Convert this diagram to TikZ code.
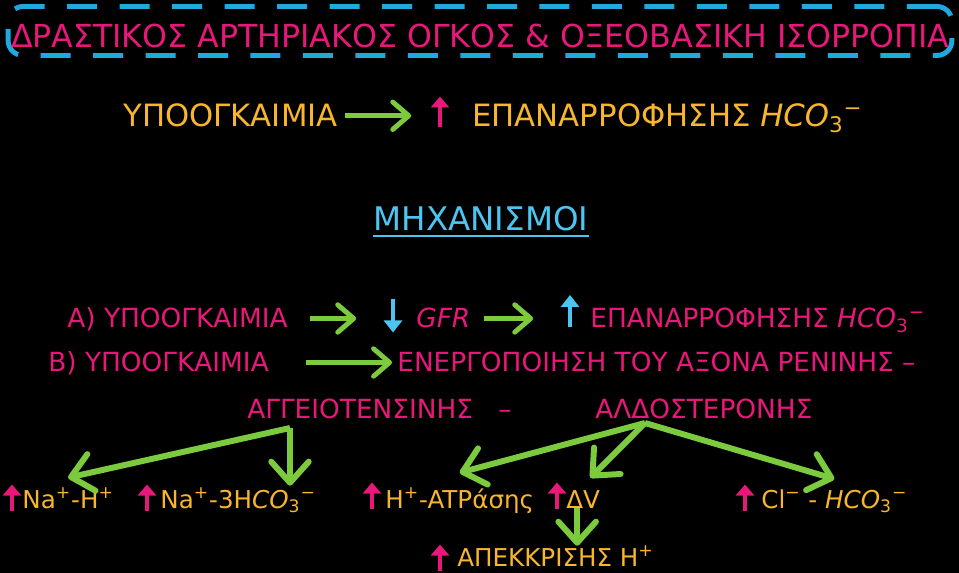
\documentclass[tikz,border=0pt]{standalone}
\usepackage{fontspec}
\setmainfont{DejaVu Sans}
\usetikzlibrary{arrows.meta, positioning}

\definecolor{textpink}{HTML}{E8177A}
\definecolor{textorange}{HTML}{F8B52E}
\definecolor{arrowgreen}{HTML}{7CCB3E}
\definecolor{framecyan}{HTML}{1FA9DC}
\definecolor{textcyan}{HTML}{4CC6F0}

\begin{document}
\begin{tikzpicture}[
	  x=0.02cm, y=-0.02cm,
	  titlebox/.style={rectangle, rounded corners=0.3cm, draw=framecyan, line width=2.8pt, dash pattern=on 0.6cm off 0.45cm, minimum width=18.88cm, minimum height=0.98cm, inner sep=0pt, text height=0.66cm, text depth=0pt, text=textpink, font=\fontsize{18}{20}\selectfont},
	  bigline/.style={inner sep=0pt, anchor=base west, text=textorange, font=\fontsize{17.5}{20}\selectfont},
	  heading/.style={inner sep=0pt, anchor=base, text=textcyan, font=\fontsize{18.5}{20}\selectfont},
	  mechline/.style={inner sep=0pt, anchor=base west, text=textpink, font=\fontsize{15}{18}\selectfont},
	  ion/.style={inner sep=0pt, anchor=base west, text=textorange, font=\fontsize{14}{16}\selectfont},
	  pinkup/.style={minimum width=0.4cm, minimum height=0.54cm, inner sep=0pt, path picture={\draw[textpink, line width=2.1pt, -{Triangle[length=0.22cm, width=0.36cm]}] (path picture bounding box.south) -- (path picture bounding box.north);}},
	  cyanup/.style={minimum width=0.4cm, minimum height=0.64cm, inner sep=0pt, path picture={\draw[textcyan, line width=2.3pt, -{Triangle[length=0.24cm, width=0.36cm]}] (path picture bounding box.south) -- (path picture bounding box.north);}},
	  cyandown/.style={minimum width=0.4cm, minimum height=0.66cm, inner sep=0pt, path picture={\draw[textcyan, line width=2.3pt, -{Triangle[length=0.24cm, width=0.36cm]}] (path picture bounding box.north) -- (path picture bounding box.south);}},
	  garrow/.style={draw=arrowgreen, line width=2.8pt, -{Straight Barb[length=0.32cm, width=0.55cm, round]}},
	  forkarrow/.style={garrow, line width=3.4pt, -{Straight Barb[length=0.42cm, width=0.75cm, round]}}
	]

	\useasboundingbox (0,0) rectangle (959,573);
	\fill[black] (0,0) rectangle (959,573);

	\node[titlebox] (title) at (480,31) {ΔΡΑΣΤΙΚΟΣ ΑΡΤΗΡΙΑΚΟΣ ΟΓΚΟΣ \& ΟΞΕΟΒΑΣΙΚΗ ΙΣΟΡΡΟΠΙΑ};

	% first line
	\node[bigline] (hypo) at (123,127) {ΥΠΟΟΓΚΑΙΜΙΑ};
	\node[pinkup, minimum height=0.62cm] (upreab) at (440,112) {};
	\node[bigline] (reab) at (472,127) {ΕΠΑΝΑΡΡΟΦΗΣΗΣ \textit{HCO}\textsubscript{3}\textsuperscript{−}};

	\node[heading] (mech) at (481,231) {ΜΗΧΑΝΙΣΜΟΙ};

	% mechanism A
	\node[mechline] (hypoA) at (67,328) {Α) ΥΠΟΟΓΚΑΙΜΙΑ};
	\node[cyandown] (gfrdown) at (393,316) {};
	\node[mechline] (gfr) at (416,328) {\textit{GFR}};
	\node[cyanup] (gfrup) at (570,311) {};
	\node[mechline] (reabA) at (590,328) {ΕΠΑΝΑΡΡΟΦΗΣΗΣ \textit{HCO}\textsubscript{3}\textsuperscript{−}};

	% mechanism B
	\node[mechline] (hypoB) at (48,372) {Β) ΥΠΟΟΓΚΑΙΜΙΑ};
	\node[mechline] (renin) at (397,372) {ΕΝΕΡΓΟΠΟΙΗΣΗ ΤΟΥ ΑΞΟΝΑ ΡΕΝΙΝΗΣ –};
	\node[mechline] (angio) at (247,419) {ΑΓΓΕΙΟΤΕΝΣΙΝΗΣ};
	\node[mechline, anchor=base] (dash) at (505,419) {–};
	\node[mechline] (aldo) at (595,419) {ΑΛΔΟΣΤΕΡΟΝΗΣ};

	% transporters
	\node[pinkup] (upnah) at (12,498) {};
	\node[ion] (nah) at (22,508) {Na\textsuperscript{+}-H\textsuperscript{+}};
	\node[pinkup] (upnabic) at (147,498) {};
	\node[ion] (nabic) at (160,508) {Na\textsuperscript{+}-3H\textit{CO}\textsubscript{3}\textsuperscript{−}};
	\node[pinkup] (upatp) at (372,496) {};
	\node[ion] (atp) at (385,508) {H\textsuperscript{+}-ATPάσης};
	\node[pinkup] (updv) at (557,496) {};
	\node[ion] (dv) at (566,508) {ΔV};
	\node[pinkup] (upcl) at (745,498) {};
	\node[ion] (cl) at (761,508) {Cl\textsuperscript{−} - \textit{HCO}\textsubscript{3}\textsuperscript{−}};
	\node[pinkup] (upsecr) at (440,558) {};
	\node[ion] (secr) at (457,566) {ΑΠΕΚΚΡΙΣΗΣ H\textsuperscript{+}};

	\coordinate (angfork) at (290,428);
	\coordinate (aldfork) at (645,423);

	\draw[garrow, shorten <=0.14cm, shorten >=0.37cm] ([yshift=0.225cm]hypo.base east) -- ([yshift=0.225cm]hypo.base east -| upreab.west);
	\draw[garrow, shorten <=0.44cm, shorten >=0.53cm] ([yshift=0.19cm]hypoA.base east) -- ([yshift=0.19cm]hypoA.base east -| gfrdown.west);
	\draw[garrow, shorten <=0.26cm, shorten >=0.53cm] ([yshift=0.19cm]gfr.base east) -- ([yshift=0.19cm]gfr.base east -| gfrup.west);
	\draw[garrow, shorten <=0.74cm, shorten >=0.1cm] ([yshift=0.19cm]hypoB.base east) -- ([yshift=0.19cm]hypoB.base east -| renin.west);
	\draw[textcyan, line width=1.5pt] ([yshift=-0.1cm]mech.base west) -- ([yshift=-0.1cm]mech.base east);

	\draw[forkarrow] (angfork) -- ([yshift=0.2cm]nah.north);
	\draw[forkarrow, shorten >=0.04cm] (angfork) -- (angfork |- nabic.north);
	\draw[forkarrow] (aldfork) -- ([yshift=0.3cm]atp.north);
	\draw[forkarrow] (aldfork) -- ([xshift=-0.2cm, yshift=0.24cm]dv.north east);
	\draw[forkarrow] (aldfork) -- ([yshift=0.2cm]cl.north);
	\draw[forkarrow] ([xshift=-0.12cm]dv.south) -- ([xshift=-0.12cm]dv.south |- secr.north);

\end{tikzpicture}
\end{document}
